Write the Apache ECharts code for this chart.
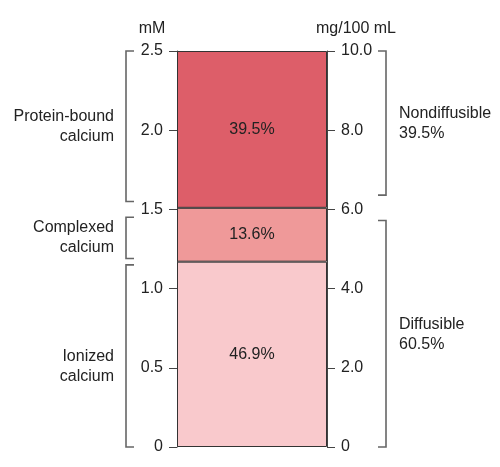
<!DOCTYPE html>
<html>
<head>
<meta charset="utf-8">
<script src="https://cdn.jsdelivr.net/npm/echarts@6/dist/echarts.min.js"></script>
<style>
html,body{margin:0;padding:0;background:#fff}
#chart{width:500px;height:467px}
</style>
</head>
<body>
<div id="chart"></div>
<script>
// serum calcium fractions, stacked from the bottom (mM)
var categories = ['Serum calcium'];
var fractionNames = ['Ionized calcium', 'Complexed calcium', 'Protein-bound calcium'];
var fractionValues = [1.17, 0.34, 0.99];
var fractionPercents = ['46.9%', '13.6%', '39.5%'];
var fractionColors = ['#f9c9cc', '#ef9999', '#dd5e69'];

// bracket ranges in mM, the mM level each label sits at, and the labels
var leftBrackets = [[0, 1.15], [1.19, 1.45], [1.55, 2.5]];
var leftLabelAt = [0.51, 1.32, 2.02];
var leftLabels = ['Ionized\ncalcium', 'Complexed\ncalcium', 'Protein-bound\ncalcium'];
var rightBrackets = [[0, 1.43], [1.59, 2.5]];
var rightLabelAt = [0.71, 2.04];
var rightLabels = ['Diffusible\n60.5%', 'Nondiffusible\n39.5%'];

var FONT = '"Liberation Sans", Arial, Helvetica, sans-serif';
var TEXT = '#222';
var FS = 16;

var myChart = echarts.init(document.getElementById('chart'));

function tickFmt(v) {
    return v === 0 ? '0' : v.toFixed(1);
}

function bracketRender(side, labels) {
    return function (params, api) {
        var cs = params.coordSys;
        var y0 = api.coord([0, api.value(1)])[1];
        var y1 = api.coord([0, api.value(2)])[1];
        var ty = api.coord([0, api.value(3)])[1];
        var x, arm, tx, align;
        if (side == 'left') {
            x = cs.x - 51; arm = 8; tx = x - 12; align = 'right';
        } else {
            x = cs.x + cs.width + 59; arm = -8; tx = x + 13; align = 'left';
        }
        return {
            type: 'group',
            children: [
                {
                    type: 'polyline',
                    shape: {points: [[x + arm, y0], [x, y0], [x, y1], [x + arm, y1]]},
                    style: {stroke: '#666', lineWidth: 1.6, fill: null}
                },
                {
                    type: 'text',
                    x: tx,
                    y: ty,
                    style: {
                        text: labels[params.dataIndex],
                        align: align,
                        verticalAlign: 'middle',
                        fontSize: FS,
                        fontFamily: FONT,
                        lineHeight: 20,
                        fill: TEXT
                    }
                }
            ]
        };
    };
}

var series = fractionNames.map(function (name, i) {
    return {
        name: name,
        type: 'bar',
        stack: 'ca',
        barWidth: '100%',
        data: [fractionValues[i]],
        itemStyle: {color: fractionColors[i], borderColor: '#333', borderWidth: 1},
        label: {
            show: true,
            position: 'inside',
            formatter: fractionPercents[i],
            fontSize: FS,
            fontFamily: FONT,
            color: TEXT
        },
        silent: true
    };
});

series.push({
    type: 'custom',
    clip: false,
    silent: true,
    renderItem: bracketRender('left', leftLabels),
    encode: {x: 0, y: [1, 2]},
    data: leftBrackets.map(function (b, i) { return [0, b[0], b[1], leftLabelAt[i]]; })
});
series.push({
    type: 'custom',
    clip: false,
    silent: true,
    renderItem: bracketRender('right', rightLabels),
    encode: {x: 0, y: [1, 2]},
    data: rightBrackets.map(function (b, i) { return [0, b[0], b[1], rightLabelAt[i]]; })
});

var axisCommon = {
    type: 'value',
    splitLine: {show: false},
    axisLine: {show: true, lineStyle: {color: '#444', width: 1}},
    axisTick: {show: true, length: 8, lineStyle: {color: '#444', width: 1}},
    axisLabel: {formatter: tickFmt, margin: 14, fontSize: FS, fontFamily: FONT, color: TEXT},
    nameLocation: 'end',
    nameGap: 14
};

var option = {
    animation: false,
    grid: {left: 177, right: 173, top: 51, bottom: 20},
    xAxis: {type: 'category', data: categories, show: false},
    yAxis: [
        echarts.util.merge({
            position: 'left',
            min: 0, max: 2.5, interval: 0.5,
            name: 'mM',
            nameTextStyle: {fontSize: FS, fontFamily: FONT, color: TEXT, align: 'center', padding: [0, 50, 0, 0]}
        }, axisCommon),
        echarts.util.merge({
            position: 'right',
            min: 0, max: 10, interval: 2,
            name: 'mg/100 mL',
            nameTextStyle: {fontSize: FS, fontFamily: FONT, color: TEXT, align: 'center', padding: [0, 0, 0, 58]}
        }, axisCommon)
    ],
    series: series
};

myChart.setOption(option);
</script>
</body>
</html>
